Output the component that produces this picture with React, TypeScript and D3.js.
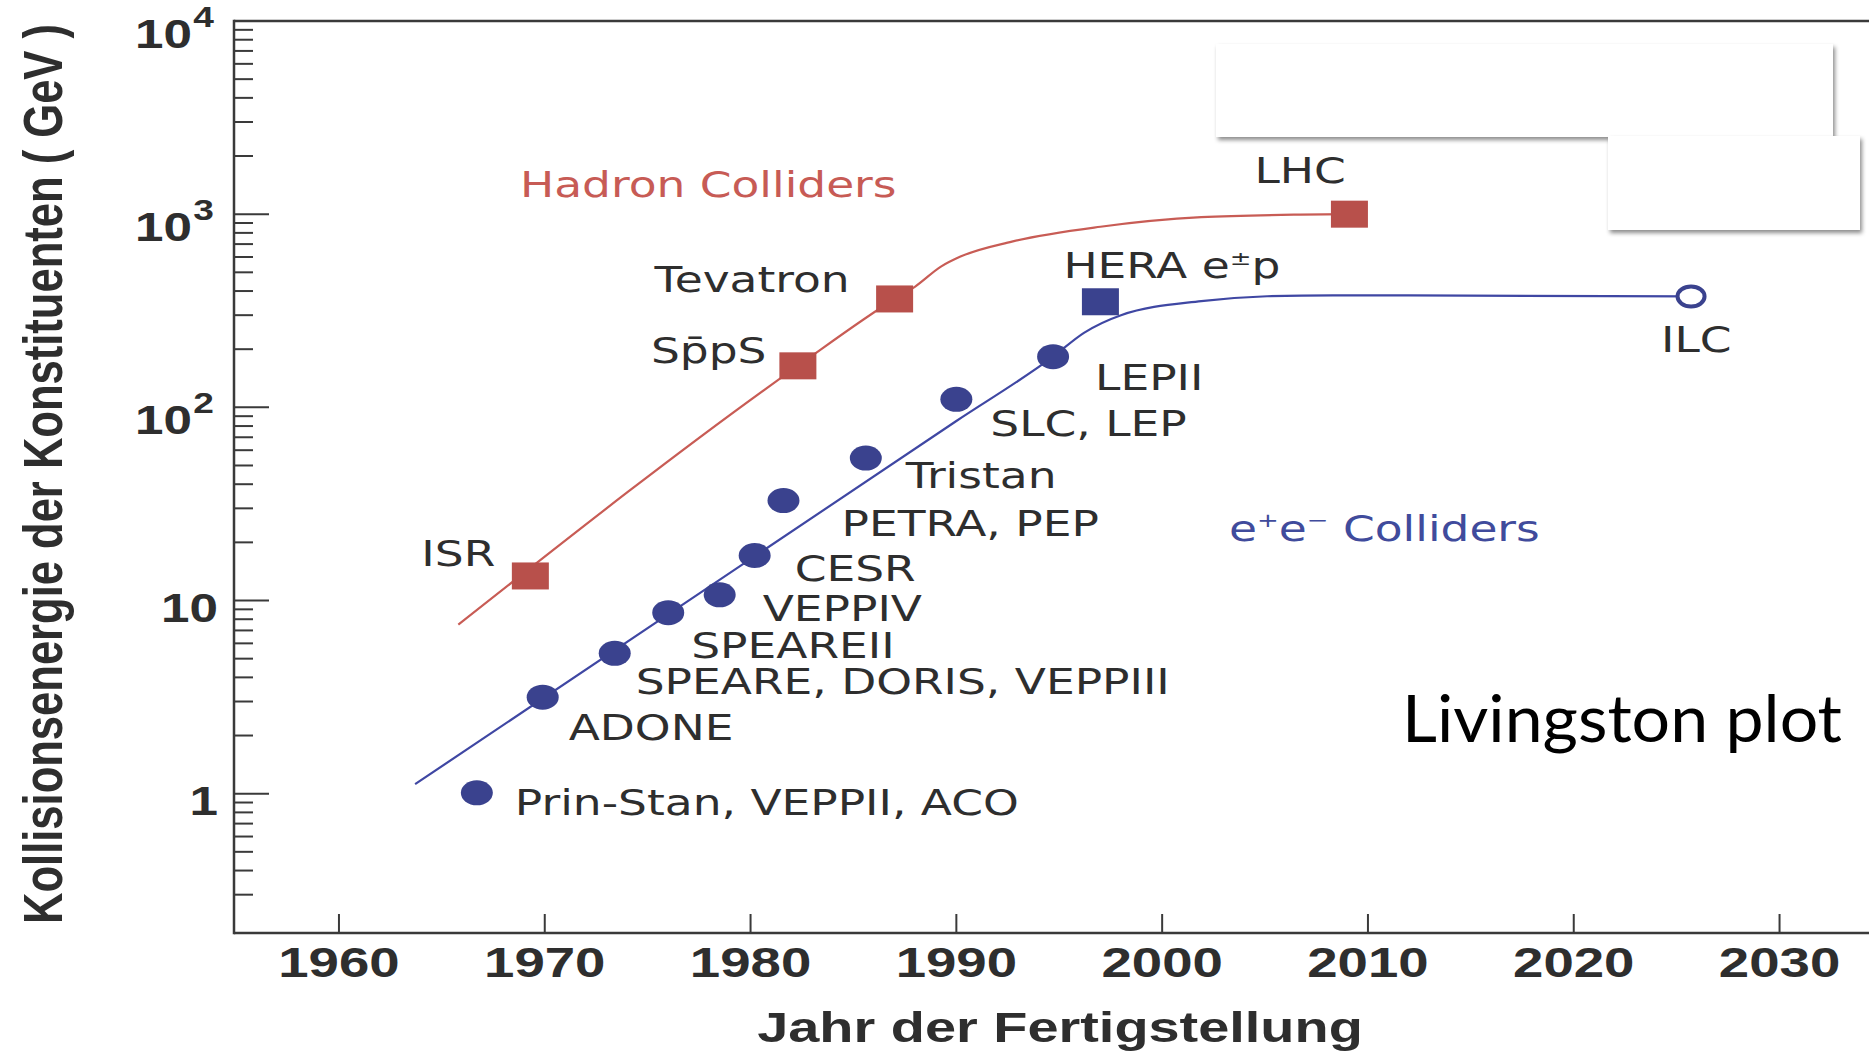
import React from 'react';
import * as d3 from 'd3';

const W = 1869;
const H = 1053;

// ---------- data ----------
const hadronNames = ['ISR', 'Sp\u0304pS', 'Tevatron', 'LHC'];
const hadronYears = [1969.3, 1982.3, 1987.0, 2009.1];
const hadronEnergies = [13.4, 164, 364, 1000];

const leptonNames = [
  'Prin-Stan, VEPPII, ACO',
  'ADONE',
  'SPEARE, DORIS, VEPPIII',
  'SPEAREII',
  'VEPPIV',
  'CESR',
  'PETRA, PEP',
  'Tristan',
  'SLC, LEP',
  'LEPII',
];
const leptonYears = [1966.7, 1969.9, 1973.4, 1976.0, 1978.5, 1980.2, 1981.6, 1985.6, 1990.0, 1994.7];
const leptonEnergies = [1.01, 3.16, 5.33, 8.65, 10.7, 17.1, 32.9, 54.6, 110, 183];

const heraYears = [1997.0];
const heraEnergies = [352];

const ilcYears = [2025.7];
const ilcEnergies = [375];

const hadronTrendYears = [1965.8, 1982.3, 1987.0, 1988.0, 1989.25, 1990.2, 1992.7, 1997.0, 2001.9, 2006.7, 2009.1];
const hadronTrendEnergies = [7.5, 164, 364, 422, 535, 603, 721, 861, 965, 995, 1000];

const leptonTrendYears = [1963.7, 1990.0, 1994.7, 1996.2, 1998.0, 2001.9, 2005.1, 2008.3, 2025.7];
const leptonTrendEnergies = [1.12, 85, 183, 243, 300, 355, 376, 380, 375];

const xTicks = [1960, 1970, 1980, 1990, 2000, 2010, 2020, 2030];
const yMajorTicks = [1, 10, 100, 1000, 10000];
const yTickLabels = ['1', '10', '10|2', '10|3', '10|4'];

// ---------- label placement (pixel offsets from the marker) ----------
const hadronLabelOffsets = [[-109, -10], [-147, -3], [-240, -7], [-95, -31]];
const leptonLabelOffsets = [[38, 22], [26, 43], [21, 41], [23, 45], [43, 26], [40, 25], [58, 35], [40, 30], [34, 37], [42, 33]];

// ---------- styles ----------
const RED = '#b8504b';
const RED_LINE = '#c85c55';
const RED_TEXT = '#c75b55';
const BLUE = '#3a428e';
const BLUE_LINE = '#3f47a3';
const BLUE_TEXT = '#404b9c';
const AXIS = '#3a3a3a';
const TXT = '#2e2e2e';
const LABEL_FONT = '"DejaVu Sans", sans-serif';
const AXIS_FONT = '"Liberation Sans", Arial, sans-serif';
const SX = 1.3;

const x = d3.scaleLinear().domain([1954.9, 2034.4]).range([234, 1870.1]);
const y = d3.scaleLog().domain([0.19, 1e4]).range([933, 21]);

function Stretch({ px, py, sx = SX, children }: any) {
  return <g transform={`translate(${px},${py}) scale(${sx},1)`}>{children}</g>;
}

function Label({ px, py, text, color = TXT, size = 35 }: any) {
  return (
    <Stretch px={px} py={py}>
      <text x={0} y={0} fontFamily={LABEL_FONT} fontSize={size} fill={color}>
        {text}
      </text>
    </Stretch>
  );
}

export default function App() {
  const line = d3
    .line<[number, number]>()
    .x((d) => x(d[0]))
    .y((d) => y(d[1]))
    .curve(d3.curveMonotoneX);

  const hadronPath = line(hadronTrendYears.map((yr, i) => [yr, hadronTrendEnergies[i]]));
  const leptonPath = line(leptonTrendYears.map((yr, i) => [yr, leptonTrendEnergies[i]]));

  const minor: number[] = [];
  for (let k = -1; k < 4; k++) {
    for (let m = 2; m <= 9; m++) {
      const v = m * Math.pow(10, k);
      if (v >= 0.3 && v < 1e4) minor.push(v);
    }
  }

  const axisLeft = x(1954.9);
  const axisBottom = y(0.19);
  const axisTop = y(1e4);

  const SQ_W = 37;
  const SQ_H = 27;

  return (
    <svg
      width={W}
      height={H}
      style={{ position: 'absolute', left: 0, top: 0, display: 'block', background: '#fff' }}
    >
      <defs>
        <filter id="shadow" x="-5%" y="-10%" width="115%" height="140%">
          <feDropShadow dx="2" dy="3" stdDeviation="2.2" floodColor="#000" floodOpacity="0.45" />
        </filter>
      </defs>
      <rect x={0} y={0} width={W} height={H} fill="#fff" />

      {/* axes frame */}
      <line x1={axisLeft} y1={axisTop} x2={W} y2={axisTop} stroke={AXIS} strokeWidth={2.5} />
      <line x1={axisLeft} y1={axisBottom} x2={W} y2={axisBottom} stroke={AXIS} strokeWidth={2.5} />
      <line x1={axisLeft} y1={axisTop - 1.2} x2={axisLeft} y2={axisBottom + 1.2} stroke={AXIS} strokeWidth={2.5} />

      {/* y ticks */}
      {yMajorTicks.map((v) => (
        <line key={'ym' + v} x1={axisLeft} x2={axisLeft + 35} y1={y(v)} y2={y(v)} stroke={AXIS} strokeWidth={2} />
      ))}
      {minor.map((v) => (
        <line key={'yn' + v} x1={axisLeft} x2={axisLeft + 19} y1={y(v)} y2={y(v)} stroke={AXIS} strokeWidth={2} />
      ))}
      {yMajorTicks.map((v, i) => {
        const [base, sup] = yTickLabels[i].split('|');
        const off = sup ? 27 : 21;
        return (
          <Stretch key={'yl' + v} px={sup ? 214 : 218} py={y(v) + off} sx={1.28}>
            <text
              x={0}
              y={0}
              textAnchor="end"
              fontFamily={AXIS_FONT}
              fontWeight="bold"
              fontSize={40}
              fill={TXT}
            >
              {base}
              {sup ? (
                <tspan dx={1} dy={-21} fontSize={29}>
                  {sup}
                </tspan>
              ) : null}
            </text>
          </Stretch>
        );
      })}

      {/* x ticks */}
      {xTicks.map((t) => (
        <line key={'xt' + t} x1={x(t)} x2={x(t)} y1={axisBottom} y2={axisBottom - 19} stroke={AXIS} strokeWidth={2} />
      ))}
      {xTicks.map((t) => (
        <Stretch key={'xl' + t} px={x(t)} py={977}>
          <text textAnchor="middle" fontFamily={AXIS_FONT} fontWeight="bold" fontSize={42} fill={TXT}>
            {t}
          </text>
        </Stretch>
      ))}

      {/* axis titles */}
      <Stretch px={1060} py={1042}>
        <text textAnchor="middle" fontFamily={AXIS_FONT} fontWeight="bold" fontSize={43} fill={TXT}>
          Jahr der Fertigstellung
        </text>
      </Stretch>
      <g transform={`translate(62,474) scale(1.4,1) rotate(-90)`}>
        <text
          textAnchor="middle"
          fontFamily={AXIS_FONT}
          fontWeight="bold"
          fontSize={40}
          fill={TXT}
          textLength={900}
          lengthAdjust="spacingAndGlyphs"
        >
          Kollisionsenergie der Konstituenten ( GeV )
        </text>
      </g>

      {/* trend lines */}
      <path d={hadronPath || ''} fill="none" stroke={RED_LINE} strokeWidth={2.2} />
      <path d={leptonPath || ''} fill="none" stroke={BLUE_LINE} strokeWidth={2.2} />

      {/* markers */}
      {hadronYears.map((yr, i) => (
        <rect
          key={'h' + i}
          x={x(yr) - SQ_W / 2}
          y={y(hadronEnergies[i]) - SQ_H / 2}
          width={SQ_W}
          height={SQ_H}
          fill={RED}
        />
      ))}
      {heraYears.map((yr, i) => (
        <rect
          key={'hera' + i}
          x={x(yr) - SQ_W / 2}
          y={y(heraEnergies[i]) - SQ_H / 2}
          width={SQ_W}
          height={SQ_H}
          fill={BLUE}
        />
      ))}
      {leptonYears.map((yr, i) => (
        <ellipse key={'l' + i} cx={x(yr)} cy={y(leptonEnergies[i])} rx={16} ry={12.5} fill={BLUE} />
      ))}
      {ilcYears.map((yr, i) => (
        <ellipse
          key={'ilc' + i}
          cx={x(yr)}
          cy={y(ilcEnergies[i])}
          rx={13.5}
          ry={10}
          fill="#fff"
          stroke={BLUE}
          strokeWidth={4}
        />
      ))}

      {/* point labels */}
      {hadronNames.map((n, i) => (
        <Label
          key={'hn' + i}
          px={x(hadronYears[i]) + hadronLabelOffsets[i][0]}
          py={y(hadronEnergies[i]) + hadronLabelOffsets[i][1]}
          text={n}
        />
      ))}
      {leptonNames.map((n, i) => (
        <Label
          key={'ln' + i}
          px={x(leptonYears[i]) + leptonLabelOffsets[i][0]}
          py={y(leptonEnergies[i]) + leptonLabelOffsets[i][1]}
          text={n}
        />
      ))}
      <Stretch px={x(heraYears[0]) - 37} py={y(heraEnergies[0]) - 24}>
        <text fontFamily={LABEL_FONT} fontSize={35} fill={TXT}>
          HERA e
          <tspan fontSize={20} dy={-13}>
            ±
          </tspan>
          <tspan dy={13}>p</tspan>
        </text>
      </Stretch>
      <Label px={x(ilcYears[0]) - 30} py={y(ilcEnergies[0]) + 56} text="ILC" />

      {/* group labels */}
      <Label px={520} py={197} text="Hadron Colliders" color={RED_TEXT} />
      <Stretch px={1229} py={541}>
        <text fontFamily={LABEL_FONT} fontSize={35} fill={BLUE_TEXT}>
          e
          <tspan fontSize={20} dy={-14}>
            +
          </tspan>
          <tspan dy={14}>e</tspan>
          <tspan fontSize={20} dy={-14}>
            −
          </tspan>
          <tspan dy={14}> Colliders</tspan>
        </text>
      </Stretch>

      {/* overlay boxes */}
      <rect x={1216} y={44} width={617} height={93} fill="#fff" filter="url(#shadow)" />
      <rect x={1608} y={136} width={252} height={94} fill="#fff" filter="url(#shadow)" />

      <text
        x={1402}
        y={742}
        fontFamily='Lato, "Open Sans", sans-serif'
        fontSize={66}
        fill="#000"
        textLength={440}
        lengthAdjust="spacingAndGlyphs"
      >
        Livingston plot
      </text>
    </svg>
  );
}
